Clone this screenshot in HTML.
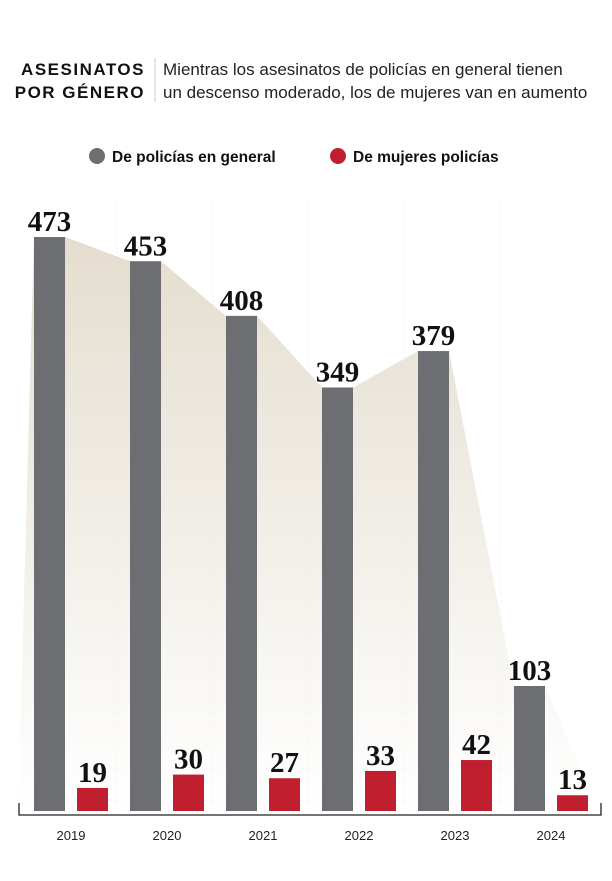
<!DOCTYPE html>
<html><head><meta charset="utf-8"><style>
body{margin:0;background:#fff;width:612px;height:876px;overflow:hidden;font-family:"Liberation Sans",sans-serif}
</style></head><body>
<svg width="612" height="876" xmlns="http://www.w3.org/2000/svg">
<defs><linearGradient id="g" x1="0" y1="0" x2="0" y2="1">
<stop offset="0" stop-color="#e4ddcf"/><stop offset="1" stop-color="#ffffff"/></linearGradient></defs>
<text x="145" y="75" text-anchor="end" font-size="17" font-weight="bold" letter-spacing="1.5" fill="#111">ASESINATOS</text>
<text x="145" y="98" text-anchor="end" font-size="17" font-weight="bold" letter-spacing="1.5" fill="#111">POR GÉNERO</text>
<line x1="155" y1="58" x2="155" y2="102" stroke="#ccc" stroke-width="1"/>
<text x="163" y="75" font-size="17" fill="#222">Mientras los asesinatos de policías en general tienen</text>
<text x="163" y="98" font-size="17" fill="#222">un descenso moderado, los de mujeres van en aumento</text>
<circle cx="97" cy="156" r="8" fill="#6d6e72"/>
<text x="112" y="162" font-size="15.5" font-weight="bold" fill="#111">De policías en general</text>
<circle cx="338" cy="156" r="8" fill="#c01f2f"/>
<text x="353" y="162" font-size="15.5" font-weight="bold" fill="#111">De mujeres policías</text>
<g id="plot"></g>
<path d="M19 803 V815 H601 V803" fill="none" stroke="#222" stroke-width="1.3"/>
</svg>
<script>
const years=["2019","2020","2021","2022","2023","2024"];
const general=[473,453,408,349,379,103];
const mujeres=[19,30,27,33,42,13];
const NS="http://www.w3.org/2000/svg";
const plot=document.getElementById("plot");
const base=811, k=574/473, x0=34, step=96, bw=31;
const y=v=>base-v*k;
const gx=i=>x0+i*step;
function mk(t,a){const e=document.createElementNS(NS,t);for(const n in a)e.setAttribute(n,a[n]);plot.appendChild(e);return e;}
let pts=[[18,base]];
general.forEach((v,i)=>{pts.push([gx(i),y(v)]);pts.push([gx(i)+bw,y(v)]);});
pts.push([598,base]);
const area=mk("polygon",{points:pts.map(p=>p.join(",")).join(" "),fill:"url(#g)"});


for(let i=1;i<years.length;i++){
  const l=mk("line",{x1:gx(i)-13,x2:gx(i)-13,y1:200,y2:base,stroke:"#e8e8e8","stroke-dasharray":"1,3"});
  
  
}
years.forEach((yr,i)=>{
  const g=mk("rect",{x:gx(i),y:y(general[i]),width:bw,height:general[i]*k,fill:"#6d6e72"});
  
  
  const rx=gx(i)+43;
  const r=mk("rect",{x:rx,y:y(mujeres[i]),width:bw,height:mujeres[i]*k,fill:"#c01f2f"});
  
  
  const t1=mk("text",{x:gx(i)+bw/2,y:y(general[i])-6,"text-anchor":"middle","font-family":"Liberation Serif,serif","font-weight":"bold","font-size":"29",fill:"#111"});
  t1.textContent=general[i];
  
  
  const t2=mk("text",{x:rx+bw/2,y:y(mujeres[i])-6,"text-anchor":"middle","font-family":"Liberation Serif,serif","font-weight":"bold","font-size":"29",fill:"#111"});
  t2.textContent=mujeres[i];
  
  
  const lb=mk("text",{x:gx(i)+37,y:840,"text-anchor":"middle","font-size":"13",fill:"#222"});
  lb.textContent=yr;
  
  
});
</script>
</body></html>
